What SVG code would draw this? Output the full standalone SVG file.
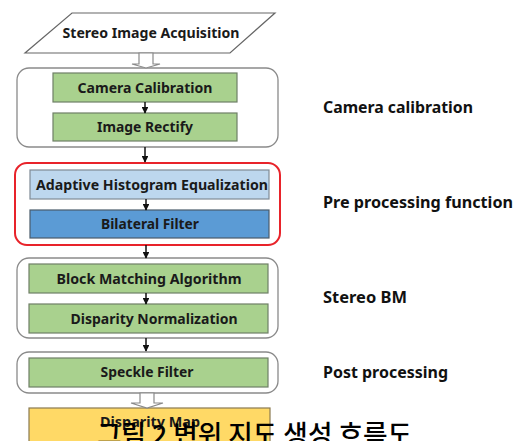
<svg xmlns="http://www.w3.org/2000/svg" width="521" height="441" viewBox="0 0 521 441">
<defs>
<style>
.t{font-family:"Noto Sans","Liberation Sans",sans-serif;font-weight:bold;fill:#1a1a1a;text-anchor:middle;font-size:14px}
.lab{font-family:"Noto Sans","Liberation Sans",sans-serif;font-weight:bold;fill:#111;font-size:15.5px}
.grp{fill:#fff;stroke:#8a8a8a;stroke-width:1.3}
.g{fill:#a9d18e;stroke:#6f7f66;stroke-width:1.2}
.lb{fill:#bdd7ee;stroke:#7f8a95;stroke-width:1.2}
.db{fill:#5b9bd5;stroke:#4a5b6b;stroke-width:1.2}
.y{fill:#ffd966;stroke:#8a7a50;stroke-width:1.2}
.ar{stroke:#111;stroke-width:1.5;fill:none;marker-end:url(#ah)}
.ha{fill:#fff;stroke:#8a8a8a;stroke-width:1.2}
.cap{font-family:"Noto Sans CJK KR",sans-serif;font-size:26px;font-weight:500;fill:#000}
</style>
<marker id="ah" viewBox="0 0 10 10" refX="9" refY="5" markerWidth="4.5" markerHeight="4.5" orient="auto">
<path d="M0,0 L10,5 L0,10 z" fill="#111"/>
</marker>
</defs>

<g id="acquisition">
<polygon points="72,13 275,13 230,53 25,53" fill="#fff" stroke="#666" stroke-width="1.2"/>
<text class="t" x="151" y="38" textLength="177" lengthAdjust="spacingAndGlyphs">Stereo Image Acquisition</text>
</g>

<g id="group-calibration">
<rect class="grp" x="17" y="68" width="261" height="79" rx="12"/>
</g>
<g id="camera-calibration">
<rect class="g" x="53" y="73" width="184" height="29"/>
<text class="t" x="145" y="93" textLength="135" lengthAdjust="spacingAndGlyphs">Camera Calibration</text>
</g>
<g id="image-rectify">
<rect class="g" x="53" y="113" width="184" height="28"/>
<text class="t" x="145" y="132" textLength="96" lengthAdjust="spacingAndGlyphs">Image Rectify</text>
</g>

<g id="group-preprocessing">
<rect x="15" y="163" width="265" height="82" rx="12" fill="#fff" stroke="#e8232a" stroke-width="2"/>
</g>
<g id="adaptive-histogram">
<rect class="lb" x="30" y="170" width="239" height="29"/>
<text class="t" x="152" y="190" textLength="232" lengthAdjust="spacingAndGlyphs">Adaptive Histogram Equalization</text>
</g>
<g id="bilateral-filter">
<rect class="db" x="30" y="210" width="239" height="28"/>
<text class="t" x="150" y="229" textLength="98" lengthAdjust="spacingAndGlyphs">Bilateral Filter</text>
</g>

<g id="group-stereo-bm">
<rect class="grp" x="17" y="258" width="261" height="80" rx="12"/>
</g>
<g id="block-matching">
<rect class="g" x="29" y="264" width="239" height="29"/>
<text class="t" x="149" y="284" textLength="185" lengthAdjust="spacingAndGlyphs">Block Matching Algorithm</text>
</g>
<g id="disparity-normalization">
<rect class="g" x="29" y="304" width="239" height="29"/>
<text class="t" x="154" y="324" textLength="167" lengthAdjust="spacingAndGlyphs">Disparity Normalization</text>
</g>

<g id="group-post">
<rect class="grp" x="17" y="352" width="261" height="41" rx="12"/>
</g>
<g id="speckle-filter">
<rect class="g" x="29" y="358" width="239" height="29"/>
<text class="t" x="147" y="377" textLength="93" lengthAdjust="spacingAndGlyphs">Speckle Filter</text>
</g>

<g id="disparity-map">
<rect class="y" x="29" y="408" width="241" height="34"/>
<text class="t" x="150" y="427" textLength="100" lengthAdjust="spacingAndGlyphs">Disparity Map</text>
</g>

<g id="connectors">
<path class="ha" d="M139,53 L153,53 L153,64 L160,64 L146,68 L132,64 L139,64 Z"/>
<line class="ar" x1="145" y1="102" x2="145" y2="113"/>
<line class="ar" x1="145" y1="147" x2="145" y2="162"/>
<line class="ar" x1="146" y1="199" x2="146" y2="210"/>
<line class="ar" x1="146" y1="245" x2="146" y2="258"/>
<line class="ar" x1="146" y1="293" x2="146" y2="304"/>
<line class="ar" x1="146" y1="338" x2="146" y2="351"/>
<path class="ha" d="M140,393 L154,393 L154,403 L163,403 L147,408 L131,403 L140,403 Z"/>
</g>

<g id="labels">
<text class="lab" x="323" y="113" textLength="150" lengthAdjust="spacingAndGlyphs">Camera calibration</text>
<text class="lab" x="323" y="208" textLength="190" lengthAdjust="spacingAndGlyphs">Pre processing function</text>
<text class="lab" x="323" y="303" textLength="84" lengthAdjust="spacingAndGlyphs">Stereo BM</text>
<text class="lab" x="323" y="378" textLength="125" lengthAdjust="spacingAndGlyphs">Post processing</text>
</g>

<text class="cap" x="97" y="444" textLength="315" lengthAdjust="spacingAndGlyphs">그림 2 변위 지도 생성 흐름도</text>
</svg>
